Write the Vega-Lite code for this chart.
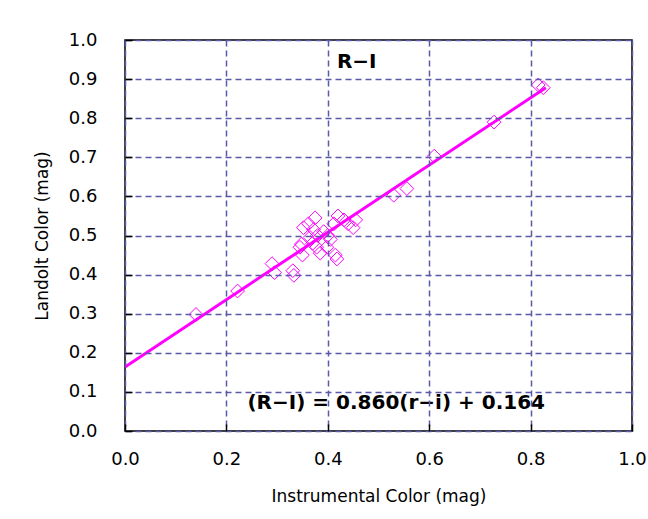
{
  "$schema": "https://vega.github.io/schema/vega-lite/v6.json",
  "autosize": "none",
  "width": 507,
  "height": 391,
  "padding": {"left": 125, "top": 40, "right": 16, "bottom": 88},
  "background": "white",
  "config": {
    "view": {"stroke": "black", "strokeWidth": 1.5},
    "font": "DejaVu Sans"
  },
  "resolve": {"axis": {"x": "independent", "y": "independent"}},
  "datasets": {
    "pts": [
      {"x": 0.140, "y": 0.298}, {"x": 0.222, "y": 0.358}, {"x": 0.290, "y": 0.428},
      {"x": 0.295, "y": 0.405}, {"x": 0.331, "y": 0.410}, {"x": 0.333, "y": 0.398},
      {"x": 0.345, "y": 0.470}, {"x": 0.348, "y": 0.478}, {"x": 0.352, "y": 0.520},
      {"x": 0.362, "y": 0.530}, {"x": 0.350, "y": 0.450}, {"x": 0.365, "y": 0.495},
      {"x": 0.372, "y": 0.515}, {"x": 0.375, "y": 0.545}, {"x": 0.378, "y": 0.470},
      {"x": 0.380, "y": 0.500}, {"x": 0.385, "y": 0.455}, {"x": 0.392, "y": 0.510},
      {"x": 0.398, "y": 0.470}, {"x": 0.405, "y": 0.490}, {"x": 0.412, "y": 0.530},
      {"x": 0.415, "y": 0.450}, {"x": 0.418, "y": 0.440}, {"x": 0.420, "y": 0.550},
      {"x": 0.432, "y": 0.540}, {"x": 0.440, "y": 0.530}, {"x": 0.450, "y": 0.520},
      {"x": 0.455, "y": 0.540}, {"x": 0.400, "y": 0.500}, {"x": 0.370, "y": 0.480},
      {"x": 0.530, "y": 0.603}, {"x": 0.556, "y": 0.620}, {"x": 0.610, "y": 0.703},
      {"x": 0.728, "y": 0.790}, {"x": 0.815, "y": 0.885}, {"x": 0.825, "y": 0.878}
    ],
    "fit": [{"x": 0.0, "y": 0.164}, {"x": 0.83, "y": 0.878}],
    "labels": [
      {"x": 0.457, "y": 0.945, "t": "R−I"},
      {"x": 0.535, "y": 0.072, "t": "(R−I) = 0.860(r−i) + 0.164"}
    ]
  },
  "layer": [
    {
      "data": {"name": "pts"},
      "mark": {"type": "point", "shape": "diamond", "filled": false, "color": "#ff00ff", "size": 190, "strokeWidth": 1, "opacity": 1},
      "encoding": {
        "x": {
          "field": "x", "type": "quantitative",
          "scale": {"domain": [0, 1], "nice": false, "zero": false},
          "axis": {
            "orient": "bottom",
            "title": "Instrumental Color (mag)", "titleFontSize": 17, "titleFontWeight": "normal", "titleColor": "black", "titlePadding": 20,
            "values": [0, 0.2, 0.4, 0.6, 0.8, 1.0], "format": ".1f", "labelFlush": false, "labelOverlap": false,
            "labelFontSize": 18, "labelColor": "black", "labelPadding": 26,
            "tickSize": -7, "tickColor": "black", "tickWidth": 1.5, "domain": false, "zindex": 1,
            "grid": true, "gridColor": "#5a5aa8", "gridDash": [6, 4], "gridWidth": 1.5
          }
        },
        "y": {
          "field": "y", "type": "quantitative",
          "scale": {"domain": [0, 1], "nice": false, "zero": false},
          "axis": {
            "orient": "left",
            "title": "Landolt Color (mag)", "titleFontSize": 17, "titleFontWeight": "normal", "titleColor": "black", "titlePadding": 17,
            "values": [0, 0.1, 0.2, 0.3, 0.4, 0.5, 0.6, 0.7, 0.8, 0.9, 1.0], "format": ".1f", "labelFlush": false, "labelOverlap": false,
            "labelFontSize": 18, "labelColor": "black", "labelPadding": 35,
            "tickSize": -7, "tickColor": "black", "tickWidth": 1.5, "domain": false, "zindex": 1,
            "grid": true, "gridColor": "#5a5aa8", "gridDash": [6, 4], "gridWidth": 1.5
          }
        }
      }
    },
    {
      "data": {"name": "fit"},
      "mark": {"type": "line", "color": "#ff00ff", "strokeWidth": 3},
      "encoding": {
        "x": {"field": "x", "type": "quantitative", "axis": null},
        "y": {"field": "y", "type": "quantitative", "axis": null}
      }
    },
    {
      "data": {"name": "labels"},
      "mark": {"type": "text", "fontSize": 20, "fontWeight": "bold", "color": "black", "font": "DejaVu Sans"},
      "encoding": {
        "x": {"field": "x", "type": "quantitative", "axis": null},
        "y": {"field": "y", "type": "quantitative", "axis": null},
        "text": {"field": "t"}
      }
    }
  ]
}
